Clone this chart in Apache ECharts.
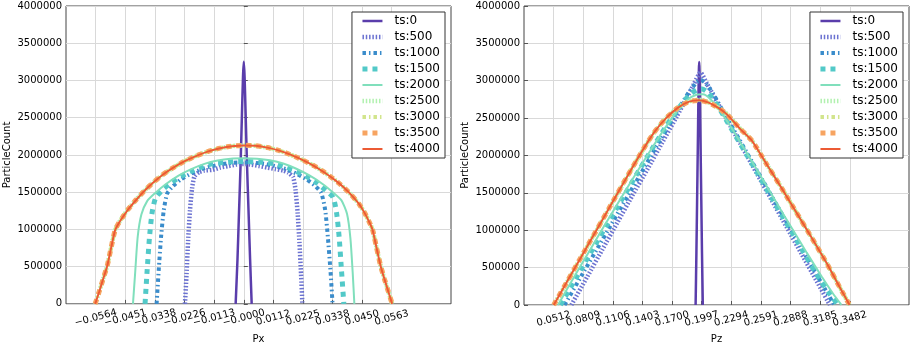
<!DOCTYPE html>
<html>
<head>
<meta charset="utf-8">
<script src="https://cdn.jsdelivr.net/npm/echarts@6/dist/echarts.min.js"></script>
<style>
html,body{margin:0;padding:0;background:#fff;}
#chart{width:912px;height:349px;}
</style>
</head>
<body>
<div id="chart"></div>
<script>
// ---------- DATA ----------
const seriesNames = ['ts:0','ts:500','ts:1000','ts:1500','ts:2000','ts:2500','ts:3000','ts:3500','ts:4000'];
const yTicks = [0,500000,1000000,1500000,2000000,2500000,3000000,3500000,4000000];
const pxTickLabels = ['−0.0564','−0.0451','−0.0338','−0.0226','−0.0113','−0.0000','0.0112','0.0225','0.0338','0.0450','0.0563'];
const pzTickLabels = ['0.0512','0.0809','0.1106','0.1403','0.1700','0.1997','0.2294','0.2591','0.2888','0.3185','0.3482'];

// Px distributions [Px, ParticleCount]
const px_ts0 = [[-0.0031,0],[-0.0024,600000],[-0.0018,1250000],[-0.0012,1900000],[-0.0007,2550000],[-0.0003,3050000],[0.0000,3250000],[0.0003,3050000],[0.0007,2550000],[0.0012,1900000],[0.0018,1250000],[0.0024,600000],[0.0030,0]];
const px_ts500 = [[-0.0224,0],[-0.0218,400000],[-0.0212,850000],[-0.0205,1250000],[-0.0197,1550000],[-0.0188,1710000],[-0.0170,1770000],[-0.0150,1790000],[-0.0120,1800000],[-0.0090,1830000],[-0.0060,1850000],[-0.0030,1870000],[0.0000,1880000],[0.0030,1870000],[0.0060,1850000],[0.0090,1830000],[0.0120,1810000],[0.0150,1790000],[0.0170,1760000],[0.0188,1700000],[0.0197,1530000],[0.0205,1220000],[0.0212,820000],[0.0218,400000],[0.0223,0]];
const px_ts1000 = [[-0.0332,0],[-0.0324,450000],[-0.0315,900000],[-0.0305,1250000],[-0.0292,1480000],[-0.0270,1580000],[-0.0240,1670000],[-0.0200,1750000],[-0.0160,1810000],[-0.0120,1850000],[-0.0080,1880000],[-0.0040,1895000],[0.0000,1900000],[0.0040,1895000],[0.0080,1880000],[0.0120,1850000],[0.0160,1810000],[0.0200,1750000],[0.0240,1670000],[0.0270,1590000],[0.0295,1490000],[0.0310,1260000],[0.0320,900000],[0.0330,450000],[0.0338,0]];
const px_ts1500 = [[-0.0376,0],[-0.0368,450000],[-0.0359,900000],[-0.0349,1230000],[-0.0336,1420000],[-0.0310,1530000],[-0.0280,1620000],[-0.0240,1710000],[-0.0200,1780000],[-0.0160,1840000],[-0.0120,1880000],[-0.0060,1905000],[0.0000,1912000],[0.0060,1905000],[0.0120,1880000],[0.0160,1840000],[0.0200,1780000],[0.0240,1710000],[0.0280,1620000],[0.0310,1530000],[0.0340,1430000],[0.0353,1230000],[0.0363,900000],[0.0372,450000],[0.0381,0]];
const px_ts2000 = [[-0.0422,0],[-0.0414,400000],[-0.0404,900000],[-0.0390,1200000],[-0.0368,1380000],[-0.0340,1480000],[-0.0300,1600000],[-0.0250,1720000],[-0.0200,1810000],[-0.0150,1880000],[-0.0100,1925000],[-0.0050,1950000],[0.0000,1955000],[0.0050,1950000],[0.0100,1928000],[0.0150,1885000],[0.0200,1815000],[0.0250,1725000],[0.0300,1610000],[0.0340,1495000],[0.0372,1390000],[0.0393,1210000],[0.0406,880000],[0.0415,400000],[0.0421,0]];
const px_ts2500 = [[-0.0566,0],[-0.0550,170000],[-0.0535,345000],[-0.0520,515000],[-0.0505,760000],[-0.0490,990000],[-0.0475,1095000],[-0.0460,1175000],[-0.0440,1275000],[-0.0410,1400000],[-0.0380,1515000],[-0.0350,1615000],[-0.0310,1730000],[-0.0270,1825000],[-0.0225,1915000],[-0.0180,1990000],[-0.0135,2050000],[-0.0090,2090000],[-0.0045,2118000],[0.0000,2128000],[0.0045,2122000],[0.0090,2098000],[0.0135,2058000],[0.0180,2000000],[0.0225,1930000],[0.0270,1848000],[0.0310,1758000],[0.0350,1655000],[0.0380,1565000],[0.0410,1460000],[0.0440,1335000],[0.0460,1225000],[0.0475,1120000],[0.0490,1000000],[0.0505,760000],[0.0521,510000],[0.0535,340000],[0.0550,170000],[0.0565,0]];
const px_ts3000 = [[-0.0566,0],[-0.0550,175000],[-0.0535,340000],[-0.0520,510000],[-0.0505,755000],[-0.0490,995000],[-0.0475,1090000],[-0.0460,1170000],[-0.0440,1270000],[-0.0410,1395000],[-0.0380,1510000],[-0.0350,1612000],[-0.0310,1728000],[-0.0270,1828000],[-0.0225,1918000],[-0.0180,1988000],[-0.0135,2048000],[-0.0090,2092000],[-0.0045,2120000],[0.0000,2130000],[0.0045,2124000],[0.0090,2100000],[0.0135,2060000],[0.0180,2002000],[0.0225,1932000],[0.0270,1850000],[0.0310,1760000],[0.0350,1658000],[0.0380,1568000],[0.0410,1462000],[0.0440,1338000],[0.0460,1222000],[0.0475,1118000],[0.0490,1002000],[0.0505,765000],[0.0521,512000],[0.0535,338000],[0.0550,168000],[0.0565,0]];
const px_ts3500 = [[-0.0566,0],[-0.0550,172000],[-0.0535,342000],[-0.0520,512000],[-0.0505,758000],[-0.0490,992000],[-0.0475,1092000],[-0.0460,1172000],[-0.0440,1272000],[-0.0410,1398000],[-0.0380,1512000],[-0.0350,1614000],[-0.0310,1732000],[-0.0270,1826000],[-0.0225,1916000],[-0.0180,1989000],[-0.0135,2049000],[-0.0090,2091000],[-0.0045,2119000],[0.0000,2129000],[0.0045,2123000],[0.0090,2099000],[0.0135,2059000],[0.0180,2001000],[0.0225,1931000],[0.0270,1849000],[0.0310,1759000],[0.0350,1656000],[0.0380,1566000],[0.0410,1461000],[0.0440,1336000],[0.0460,1224000],[0.0475,1119000],[0.0490,1001000],[0.0505,762000],[0.0521,511000],[0.0535,339000],[0.0550,169000],[0.0565,0]];
const px_ts4000 = [[-0.0566,0],[-0.0550,170000],[-0.0535,340000],[-0.0520,510000],[-0.0505,755000],[-0.0490,990000],[-0.0475,1090000],[-0.0460,1170000],[-0.0440,1270000],[-0.0410,1395000],[-0.0380,1512000],[-0.0350,1612000],[-0.0310,1730000],[-0.0270,1826000],[-0.0225,1916000],[-0.0180,1988000],[-0.0135,2048000],[-0.0090,2090000],[-0.0045,2118000],[0.0000,2128000],[0.0045,2122000],[0.0090,2098000],[0.0135,2058000],[0.0180,2000000],[0.0225,1930000],[0.0270,1848000],[0.0310,1758000],[0.0350,1655000],[0.0380,1565000],[0.0410,1460000],[0.0440,1335000],[0.0460,1222000],[0.0475,1118000],[0.0490,1000000],[0.0505,760000],[0.0521,510000],[0.0535,340000],[0.0550,170000],[0.0565,0]];

// Pz distributions [Pz, ParticleCount]
const pz_ts0 = [[0.1936,0],[0.1944,700000],[0.1951,1400000],[0.1958,2100000],[0.1964,2750000],[0.1969,3150000],[0.1972,3250000],[0.1975,3150000],[0.1980,2750000],[0.1986,2100000],[0.1993,1400000],[0.2000,700000],[0.2008,0]];
const pz_ts500 = [[0.0690,0],[0.0850,380000],[0.1000,740000],[0.1150,1100000],[0.1300,1460000],[0.1450,1810000],[0.1600,2170000],[0.1750,2530000],[0.1850,2780000],[0.1920,2960000],[0.1985,3110000],[0.2050,2960000],[0.2120,2790000],[0.2250,2480000],[0.2400,2120000],[0.2550,1760000],[0.2700,1400000],[0.2850,1040000],[0.3000,680000],[0.3150,320000],[0.3282,0]];
const pz_ts1000 = [[0.0622,0],[0.0800,410000],[0.0950,755000],[0.1100,1100000],[0.1250,1445000],[0.1400,1790000],[0.1550,2135000],[0.1700,2470000],[0.1800,2700000],[0.1880,2870000],[0.1950,2980000],[0.1990,3010000],[0.2040,2960000],[0.2110,2830000],[0.2200,2620000],[0.2350,2270000],[0.2500,1920000],[0.2650,1570000],[0.2800,1220000],[0.2950,870000],[0.3100,520000],[0.3230,220000],[0.3327,0]];
const pz_ts1500 = [[0.0580,0],[0.0750,390000],[0.0900,740000],[0.1050,1080000],[0.1200,1420000],[0.1350,1760000],[0.1500,2090000],[0.1650,2410000],[0.1780,2660000],[0.1880,2820000],[0.1960,2885000],[0.2000,2890000],[0.2060,2840000],[0.2150,2680000],[0.2250,2460000],[0.2400,2120000],[0.2550,1780000],[0.2700,1430000],[0.2850,1090000],[0.3000,750000],[0.3150,410000],[0.3270,170000],[0.3365,0]];
const pz_ts2000 = [[0.0556,0],[0.0720,380000],[0.0870,720000],[0.1020,1060000],[0.1170,1390000],[0.1320,1720000],[0.1470,2040000],[0.1620,2350000],[0.1750,2590000],[0.1860,2750000],[0.1950,2815000],[0.2010,2820000],[0.2080,2760000],[0.2180,2600000],[0.2300,2360000],[0.2450,2030000],[0.2600,1700000],[0.2750,1360000],[0.2900,1030000],[0.3050,700000],[0.3200,380000],[0.3310,160000],[0.3398,0]];
const pz_ts2500 = [[0.0515,0],[0.0650,315000],[0.0800,665000],[0.0950,1015000],[0.1100,1365000],[0.1250,1715000],[0.1400,2055000],[0.1520,2305000],[0.1640,2500000],[0.1760,2645000],[0.1870,2725000],[0.1970,2745000],[0.2060,2715000],[0.2160,2645000],[0.2250,2555000],[0.2380,2365000],[0.2500,2200000],[0.2650,1880000],[0.2800,1560000],[0.2950,1230000],[0.3100,900000],[0.3250,560000],[0.3380,240000],[0.3478,0]];
const pz_ts3000 = [[0.0514,0],[0.0650,318000],[0.0800,668000],[0.0950,1018000],[0.1100,1368000],[0.1250,1718000],[0.1400,2058000],[0.1520,2308000],[0.1640,2502000],[0.1760,2642000],[0.1870,2722000],[0.1970,2742000],[0.2060,2712000],[0.2160,2642000],[0.2250,2552000],[0.2380,2362000],[0.2500,2202000],[0.2650,1882000],[0.2800,1562000],[0.2950,1232000],[0.3100,902000],[0.3250,562000],[0.3380,242000],[0.3479,0]];
const pz_ts3500 = [[0.0513,0],[0.0650,320000],[0.0800,670000],[0.0950,1020000],[0.1100,1370000],[0.1250,1720000],[0.1400,2060000],[0.1520,2310000],[0.1640,2500000],[0.1760,2640000],[0.1870,2720000],[0.1970,2738000],[0.2060,2710000],[0.2160,2640000],[0.2250,2550000],[0.2380,2360000],[0.2500,2200000],[0.2650,1880000],[0.2800,1560000],[0.2950,1230000],[0.3100,900000],[0.3250,560000],[0.3380,240000],[0.3480,0]];
const pz_ts4000 = [[0.0513,0],[0.0650,320000],[0.0800,670000],[0.0950,1020000],[0.1100,1370000],[0.1250,1720000],[0.1400,2060000],[0.1520,2310000],[0.1640,2500000],[0.1760,2640000],[0.1870,2720000],[0.1970,2740000],[0.2060,2710000],[0.2160,2640000],[0.2250,2550000],[0.2380,2360000],[0.2500,2200000],[0.2650,1880000],[0.2800,1560000],[0.2950,1230000],[0.3100,900000],[0.3250,560000],[0.3380,240000],[0.3480,0]];

// ---------- STYLE ----------
const colors = ['#5a3dab','#6b72d1','#3a8ccb','#52c9c8','#80dfbc','#b2f1b0','#d2e58c','#f7a461','#ec5a34'];
const widths = [2.5,4.5,4,5,2,4.5,4,5,2];
const dashes = ['solid',[1.5,1.8],[3.5,3,1.5,3],[5,5],'solid',[1.5,1.8],[3.5,3,1.5,3],[5,5],'solid'];
const FONT = 'DejaVu Sans';

const pxData = [px_ts0,px_ts500,px_ts1000,px_ts1500,px_ts2000,px_ts2500,px_ts3000,px_ts3500,px_ts4000];
const pzData = [pz_ts0,pz_ts500,pz_ts1000,pz_ts1500,pz_ts2000,pz_ts2500,pz_ts3000,pz_ts3500,pz_ts4000];

const toNum = s => parseFloat(s.replace('−','-'));
const pxTickVals = pxTickLabels.map(toNum);
const pzTickVals = pzTickLabels.map(toNum);
function labelFor(vals, labels) {
  return function (v) {
    let best = 0, bd = Infinity;
    vals.forEach((t, i) => { const d = Math.abs(t - v); if (d < bd) { bd = d; best = i; } });
    return labels[best];
  };
}
const pick = (arr, parity) => arr.filter((_, i) => i % 2 === parity);

const labelStyle = {
  showMinLabel: true, showMaxLabel: true, hideOverlap: false,
  rotate: 15, align: 'center', verticalAlign: 'middle', margin: 14,
  fontFamily: FONT, fontSize: 10, color: '#000'
};
// main x axis: ticks, grid lines, even-index labels
function xAxisMain(gridIndex, min, max, vals, labels, name) {
  return {
    type: 'value', gridIndex, min, max, name, position: 'bottom',
    nameLocation: 'middle', nameGap: 29,
    nameTextStyle: { fontFamily: FONT, fontSize: 10, color: '#000' },
    axisLine: { show: false },
    axisTick: { show: true, inside: true, length: 4, customValues: vals, lineStyle: { color: '#555' } },
    axisLabel: Object.assign({ customValues: pick(vals, 0), formatter: labelFor(vals, labels) }, labelStyle),
    splitLine: { show: true, lineStyle: { color: '#d9d9d9', width: 1 } }
  };
}
// companion x axis on same grid: odd-index labels only
function xAxisAlt(gridIndex, min, max, vals, labels) {
  return {
    type: 'value', gridIndex, min, max, position: 'bottom', offset: 0,
    axisLine: { show: false }, axisTick: { show: false }, splitLine: { show: false },
    axisLabel: Object.assign({ customValues: pick(vals, 1), formatter: labelFor(vals, labels) }, labelStyle)
  };
}
function yAxisCfg(gridIndex) {
  return {
    type: 'value', gridIndex, min: yTicks[0], max: yTicks[yTicks.length - 1], interval: yTicks[1] - yTicks[0],
    name: 'ParticleCount', nameLocation: 'middle', nameGap: 54,
    nameTextStyle: { fontFamily: FONT, fontSize: 10, color: '#000' },
    axisLine: { show: false },
    axisTick: { show: true, inside: true, length: 4, lineStyle: { color: '#555' } },
    axisLabel: { margin: 4, fontFamily: FONT, fontSize: 10, color: '#000', formatter: v => String(v), showMinLabel: true, showMaxLabel: true },
    splitLine: { show: true, lineStyle: { color: '#d9d9d9', width: 1 } }
  };
}
function makeSeries(dataList, idx) {
  return seriesNames.map((n, i) => ({
    type: 'line', name: n, xAxisIndex: idx, yAxisIndex: idx,
    data: dataList[i], symbol: 'none', showSymbol: false, smooth: 0.2,
    clip: true, animation: false,
    lineStyle: { color: colors[i], width: widths[i], type: dashes[i], cap: 'butt' },
    itemStyle: { color: colors[i] }
  }));
}
function legendCfg(right) {
  return {
    data: seriesNames, orient: 'vertical', right, top: 12,
    itemWidth: 20, itemHeight: 14, itemGap: 4,
    padding: [3, 5, 3, 8],
    borderColor: '#333', borderWidth: 1, borderRadius: 0, backgroundColor: '#fff',
    itemStyle: { color: 'rgba(0,0,0,0)', borderColor: 'rgba(0,0,0,0)', borderWidth: 0, opacity: 0 },
    lineStyle: { width: 'inherit', type: 'inherit', color: 'inherit' },
    textStyle: { fontFamily: FONT, fontSize: 12, color: '#000', padding: [0, 0, 0, 7] },
    selectedMode: false
  };
}

const chart = echarts.init(document.getElementById('chart'), null, { renderer: 'canvas' });
chart.setOption({
  backgroundColor: '#fff',
  animation: false,
  textStyle: { fontFamily: FONT },
  grid: [
    { left: 66, top: 6, width: 385, height: 299, show: true, borderColor: '#444', borderWidth: 1, backgroundColor: 'transparent', containLabel: false },
    { left: 524, top: 6, width: 385, height: 299, show: true, borderColor: '#444', borderWidth: 1, backgroundColor: 'transparent', containLabel: false }
  ],
  xAxis: [
    xAxisMain(0, -0.0677, 0.0789, pxTickVals, pxTickLabels, 'Px'),
    xAxisMain(1, 0.0215, 0.4076, pzTickVals, pzTickLabels, 'Pz'),
    xAxisAlt(0, -0.0677, 0.0789, pxTickVals, pxTickLabels),
    xAxisAlt(1, 0.0215, 0.4076, pzTickVals, pzTickLabels)
  ],
  yAxis: [yAxisCfg(0), yAxisCfg(1)],
  legend: [legendCfg(912 - 445), legendCfg(912 - 903)],
  series: makeSeries(pxData, 0).concat(makeSeries(pzData, 1))
});
</script>
</body>
</html>
